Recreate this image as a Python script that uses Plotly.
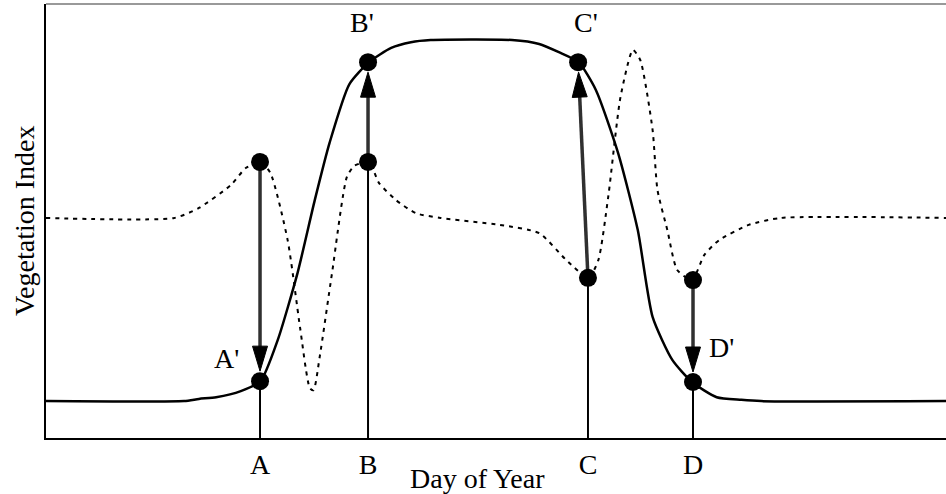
import numpy as np
import plotly.graph_objects as go

# ---------------- data ----------------
# solid curve: true (smoothed) vegetation index
solid_day = [0, 56, 62, 69, 79, 87, 94, 102, 109, 115, 123, 131, 140, 148, 156,
             189, 200, 208, 216, 223, 232, 240, 246, 254, 262, 272, 282, 290, 365]
solid_vi = [0.085, 0.085, 0.090, 0.094, 0.108, 0.131, 0.226, 0.380, 0.548, 0.680,
            0.815, 0.866, 0.899, 0.912, 0.917, 0.917, 0.908, 0.889, 0.866, 0.802,
            0.657, 0.479, 0.279, 0.180, 0.129, 0.094, 0.088, 0.085, 0.085]

# dotted curve: noisy observed vegetation index
dot_day = [0, 52, 62, 75, 81, 87, 91, 98, 103, 107, 108.5, 111, 116, 122, 125, 131,
           135, 142, 150, 160, 184, 200, 211, 220, 224, 228, 233, 238, 241, 246,
           248, 252, 256, 262, 267, 273, 285, 298, 365]
dot_vi = [0.507, 0.507, 0.530, 0.583, 0.622, 0.636, 0.611, 0.456, 0.256, 0.115,
          0.110, 0.187, 0.380, 0.601, 0.627, 0.636, 0.588, 0.548, 0.518, 0.507,
          0.491, 0.472, 0.410, 0.369, 0.410, 0.555, 0.786, 0.894, 0.871, 0.710,
          0.571, 0.479, 0.387, 0.364, 0.422, 0.456, 0.491, 0.507, 0.507]

# key dates and points
key_labels = ["A", "B", "C", "D"]
key_day = [86.8, 130.6, 219.8, 262.4]           # observed (noisy) points
key_obs_vi = [0.636, 0.636, 0.369, 0.364]
fix_day = [86.8, 130.6, 215.8, 262.4]           # corrected points
fix_vi = [0.131, 0.866, 0.866, 0.129]
fix_labels = ["A'", "B'", "C'", "D'"]

# ---------------- layout geometry ----------------
W, H = 946, 494
ML, MR, MT, MB = 46, 0, 4, 56
PW, PH = W - ML - MR, H - MT - MB
XR = [0, 365]
YR = [0, 1]
FONT = "Liberation Serif, Times New Roman, serif"


def to_px(d, v):
    return (ML + (d - XR[0]) / (XR[1] - XR[0]) * PW,
            MT + PH - (v - YR[0]) / (YR[1] - YR[0]) * PH)


def to_data(px, py):
    return (XR[0] + (px - ML) / PW * (XR[1] - XR[0]),
            YR[0] + (MT + PH - py) / PH * (YR[1] - YR[0]))


fig = go.Figure()

# drop lines from each key point down to the axis
for d, v, fd, fv in zip(key_day, key_obs_vi, fix_day, fix_vi):
    top = v
    if d == fd and fv < v:
        top = fv
    fig.add_trace(go.Scatter(x=[d, d], y=[top, YR[0]], mode="lines",
                             line=dict(color="black", width=2),
                             hoverinfo="skip", showlegend=False))

# curves
fig.add_trace(go.Scatter(x=dot_day, y=dot_vi, mode="lines",
                         line=dict(color="black", width=2, dash="4px,5px",
                                   shape="spline", smoothing=0.6),
                         hoverinfo="skip", showlegend=False))
fig.add_trace(go.Scatter(x=solid_day, y=solid_vi, mode="lines",
                         line=dict(color="black", width=2.5,
                                   shape="spline", smoothing=0.6),
                         hoverinfo="skip", showlegend=False))

# arrows (shaft + filled head), computed in pixel space
R, L, HW = 10, 25, 7.5
for d0, v0, d1, v1 in zip(key_day, key_obs_vi, fix_day, fix_vi):
    sx, sy = to_px(d0, v0)
    tx, ty = to_px(d1, v1)
    vx, vy = tx - sx, ty - sy
    n = np.hypot(vx, vy)
    ux, uy = vx / n, vy / n
    tipx, tipy = tx - ux * R, ty - uy * R
    bx, by = tipx - ux * L, tipy - uy * L
    px_, py_ = -uy, ux
    shaft = [to_data(sx, sy), to_data(bx + ux * 2, by + uy * 2)]
    fig.add_trace(go.Scatter(x=[p[0] for p in shaft], y=[p[1] for p in shaft],
                             mode="lines", line=dict(color="#303030", width=3.5),
                             hoverinfo="skip", showlegend=False))
    tri = [to_data(tipx, tipy), to_data(bx + px_ * HW, by + py_ * HW),
           to_data(bx - px_ * HW, by - py_ * HW), to_data(tipx, tipy)]
    fig.add_trace(go.Scatter(x=[p[0] for p in tri], y=[p[1] for p in tri],
                             mode="lines", fill="toself", fillcolor="black",
                             line=dict(color="black", width=1),
                             hoverinfo="skip", showlegend=False))

# dots
fig.add_trace(go.Scatter(x=key_day + fix_day, y=key_obs_vi + fix_vi, mode="markers",
                         marker=dict(color="black", size=18),
                         hoverinfo="skip", showlegend=False, cliponaxis=False))

# primed labels
offsets = [(-34, 23), (-6, 40), (8, 40), (28, 35)]
for lab, d, v, (dx, dy) in zip(fix_labels, fix_day, fix_vi, offsets):
    fig.add_annotation(x=d, y=v, xref="x", yref="y", text=lab, showarrow=False,
                       xshift=dx, yshift=dy, font=dict(family=FONT, size=28, color="black"))

# axis titles
fig.add_annotation(x=(477 - ML) / PW, y=-(478 - MT - PH) / PH, xref="paper", yref="paper",
                   text="Day of Year", showarrow=False, xanchor="center", yanchor="middle",
                   font=dict(family=FONT, size=28, color="black"))
fig.add_annotation(x=(24 - ML) / PW, y=0.5, xref="paper", yref="paper",
                   text="Vegetation Index", showarrow=False, textangle=-90,
                   xanchor="center", yanchor="middle",
                   font=dict(family=FONT, size=28, color="black"))

# top frame line (gray)
fig.add_shape(type="line", xref="paper", yref="paper", x0=0, x1=1, y0=1, y1=1,
              line=dict(color="#999999", width=2))

fig.update_layout(
    width=W, height=H,
    margin=dict(l=ML, r=MR, t=MT, b=MB, pad=0),
    paper_bgcolor="white", plot_bgcolor="white",
    xaxis=dict(range=XR, showgrid=False, zeroline=False, showline=True,
               linecolor="black", linewidth=2, ticks="",
               tickvals=key_day, ticktext=key_labels,
               tickfont=dict(family=FONT, size=28, color="black")),
    yaxis=dict(range=YR, showgrid=False, zeroline=False, showline=True,
               linecolor="black", linewidth=2, showticklabels=False, ticks=""),
)

fig.write_html("out.html", config={"displayModeBar": False},
               post_script="document.body.style.margin='0';document.body.style.overflow='hidden';")
